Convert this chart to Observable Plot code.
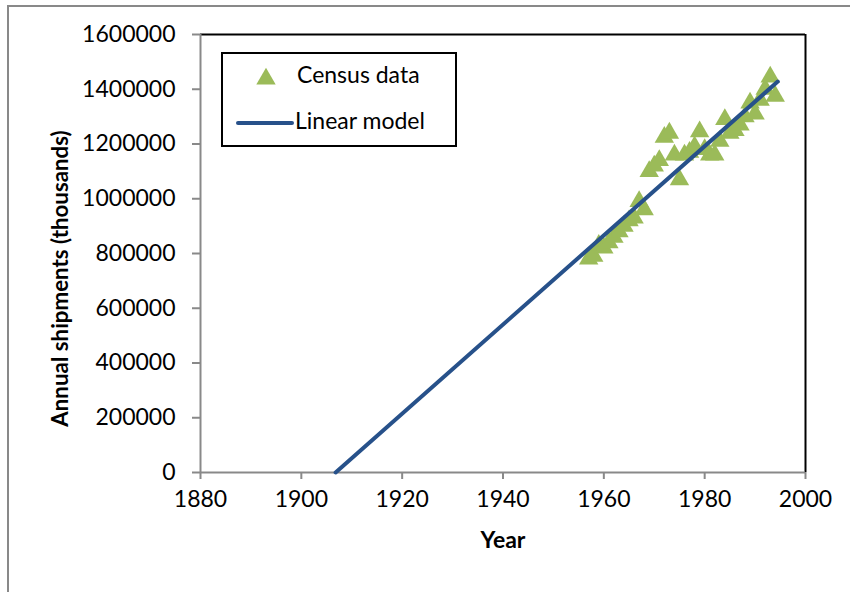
<!DOCTYPE html>
<html>
<head>
<meta charset="utf-8">
<script src="https://cdn.jsdelivr.net/npm/d3@7"></script>
<script src="https://cdn.jsdelivr.net/npm/@observablehq/plot@0.6"></script>
<style>
  html, body { margin: 0; padding: 0; background: #fff; }
  body { width: 850px; height: 592px; overflow: hidden; position: relative; font-family: Lato, "Open Sans", sans-serif; }
  #frame { position: absolute; left: 7px; top: 5px; width: 900px; height: 700px; border-left: 2px solid #898989; border-top: 2px solid #898989; box-sizing: border-box; }
  #chart { position: absolute; left: 0; top: 0; }
  #legend { position: absolute; left: 221px; top: 52px; width: 236px; height: 95px; border: 2px solid #000; box-sizing: border-box; background: #fff; }
</style>
</head>
<body>
<div id="frame"></div>
<div id="chart"></div>
<div id="legend"></div>
<script>
const censusYears = [1957,1958,1959,1960,1961,1962,1963,1964,1965,1966,1967,1968,1969,1970,1971,1972,1973,1974,1975,1976,1977,1978,1979,1980,1981,1982,1983,1984,1985,1986,1987,1988,1989,1990,1991,1992,1993,1994];
const censusValues = [780000,790000,830000,820000,840000,860000,880000,900000,920000,930000,990000,960000,1100000,1120000,1140000,1225000,1240000,1160000,1070000,1160000,1170000,1190000,1245000,1180000,1160000,1160000,1210000,1290000,1240000,1250000,1270000,1300000,1350000,1310000,1360000,1400000,1445000,1375000];
const modelYears = [1906.8, 1994.5];
const modelValues = [0, 1428000];
const xTicks = [1880,1900,1920,1940,1960,1980,2000];
const yTicks = [0,200000,400000,600000,800000,1000000,1200000,1400000,1600000];
const xTitle = "Year";
const yTitle = "Annual shipments (thousands)";
const seriesNames = ["Census data", "Linear model"];

const green = "#9BBB59";
const blue = "#27518A";
const grey = "#898989";
const font = "Lato, 'Open Sans', sans-serif";
const fs = 23;

const census = censusYears.map((y, i) => ({year: y, value: censusValues[i]}));
const model = modelYears.map((y, i) => ({year: y, value: modelValues[i]}));

const chart = Plot.plot({
  width: 850,
  height: 592,
  marginLeft: 200,
  marginRight: 45,
  marginTop: 34,
  marginBottom: 120,
  style: {fontFamily: font, fontSize: fs + "px", color: "#000", background: "transparent", overflow: "visible"},
  x: {domain: [1880, 2000], ticks: xTicks},
  y: {domain: [0, 1600000], ticks: yTicks},
  marks: [
    Plot.ruleY([1600000], {stroke: "#000", strokeWidth: 2}),
    Plot.ruleX([2000], {stroke: "#000", strokeWidth: 2}),
    Plot.axisX({ticks: xTicks, tickFormat: d => String(d), tickSize: 7, tickPadding: 11, stroke: grey, strokeWidth: 2, fontSize: fs, label: null}),
    Plot.axisY({ticks: yTicks, tickFormat: d => String(d), tickSize: 8, tickPadding: 17, stroke: grey, strokeWidth: 2, fontSize: fs, label: null}),
    Plot.ruleY([0], {stroke: grey, strokeWidth: 2}),
    Plot.ruleX([1880], {stroke: grey, strokeWidth: 2}),
    Plot.dot(census, {x: "year", y: "value", symbol: "triangle", r: 7.2, fill: green, stroke: "none"}),
    Plot.line(model, {x: "year", y: "value", stroke: blue, strokeWidth: 4}),
    Plot.text([xTitle], {frameAnchor: "bottom", dy: 75, fontWeight: "bold", fontSize: fs, fill: "#000"}),
    Plot.text([yTitle], {frameAnchor: "left", dx: -140, dy: 25, rotate: -90, textAnchor: "middle", fontWeight: "bold", fontSize: 22.3, fill: "#000"})
  ]
});
document.getElementById("chart").appendChild(chart);

// legend
const lg = d3.select("#legend").append("svg").attr("width", 232).attr("height", 91)
  .style("font-family", font).style("font-size", fs + "px");
lg.append("path").attr("d", d3.symbol(d3.symbolTriangle, 7.2 * 7.2 * Math.PI)())
  .attr("transform", "translate(43,25)").attr("fill", green);
lg.append("text").attr("x", 74).attr("y", 21).attr("dy", "0.35em").text(seriesNames[0]);
lg.append("line").attr("x1", 15).attr("x2", 69).attr("y1", 69).attr("y2", 69)
  .attr("stroke", blue).attr("stroke-width", 4).attr("stroke-linecap", "round");
lg.append("text").attr("x", 72).attr("y", 67).attr("dy", "0.35em").text(seriesNames[1]);
</script>
</body>
</html>
